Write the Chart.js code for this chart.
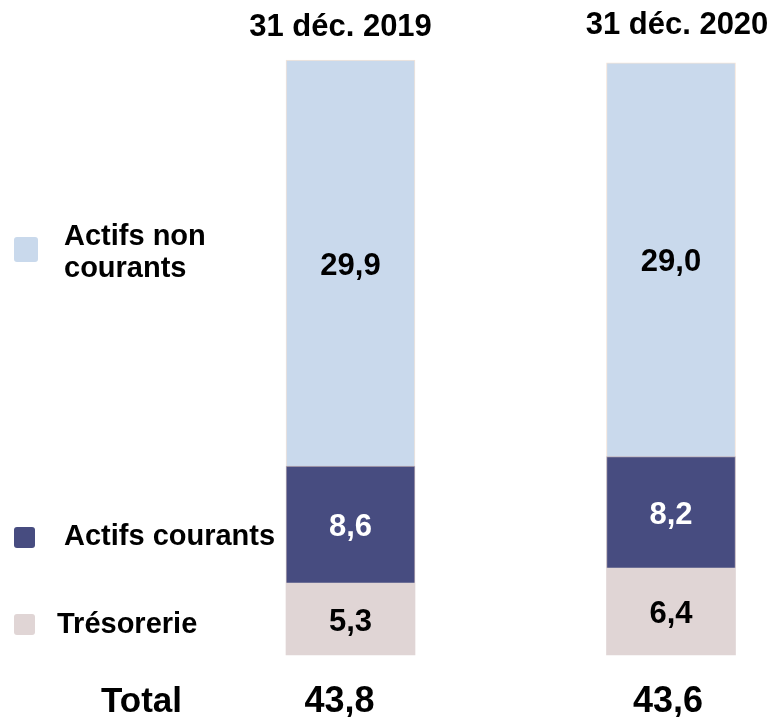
<!DOCTYPE html>
<html>
<head>
<meta charset="utf-8">
<script src="https://cdn.jsdelivr.net/npm/chart.js@4"></script>
<style>
html,body{margin:0;padding:0;background:#fff;}
#wrap{position:relative;width:777px;height:717px;}
</style>
</head>
<body>
<div id="wrap"><canvas id="c"></canvas></div>
<script>
const categories = ['31 déc. 2019', '31 déc. 2020'];
const seriesNames = ['Trésorerie', 'Actifs courants', 'Actifs non\ncourants'];
const tresorerie = [5.3, 6.4];
const actifsCourants = [8.6, 8.2];
const actifsNonCourants = [29.9, 29.0];
const totalLabel = 'Total';

const COLORS = ['#E0D5D5', '#474C80', '#C9D9EC'];
const BORDERS = ['#E0D5D5', '#B9ABB3', '#F3E4D8'];
const LABEL_COLORS = ['#000000', '#FFFFFF', '#000000'];
const FONT = '"Liberation Sans", Arial, sans-serif';

const fmt = v => v.toFixed(1).replace('.', ',');

const overlay = {
  id: 'overlay',
  afterDatasetsDraw(chart) {
    const ctx = chart.ctx;
    const xs = chart.scales.x;
    ctx.save();
    // value labels
    chart.data.datasets.forEach((ds, di) => {
      const meta = chart.getDatasetMeta(di);
      meta.data.forEach((el, i) => {
        const cy = (el.y + el.base) / 2;
        ctx.font = 'bold 31px ' + FONT;
        ctx.fillStyle = LABEL_COLORS[di];
        ctx.textAlign = 'center';
        ctx.textBaseline = 'middle';
        ctx.fillText(fmt(ds.data[i]), el.x, cy + 3);
      });
    });
    // headers
    const hdrOff = [-10, 6];
    const hdrBase = [36, 34];
    ctx.font = 'bold 31px ' + FONT;
    ctx.fillStyle = '#000';
    ctx.textAlign = 'center';
    ctx.textBaseline = 'alphabetic';
    categories.forEach((c, i) => {
      ctx.fillText(c, xs.getPixelForValue(i) + hdrOff[i], hdrBase[i]);
    });
    // totals
    ctx.font = 'bold 35px ' + FONT;
    ctx.textAlign = 'left';
    ctx.fillText(totalLabel, 101, 712);
    ctx.font = 'bold 36px ' + FONT;
    ctx.textAlign = 'center';
    const totOff = [-11, -3];
    categories.forEach((c, i) => {
      const t = tresorerie[i] + actifsCourants[i] + actifsNonCourants[i];
      ctx.fillText(fmt(t), xs.getPixelForValue(i) + totOff[i], 712);
    });
    // legend
    const leg = [
      {di: 2, box: [14, 237, 24, 25], lines: [[64, 245], [64, 277]]},
      {di: 1, box: [14, 527, 21, 21], lines: [[64, 545]]},
      {di: 0, box: [14, 614, 21, 21], lines: [[57, 633]]}
    ];
    leg.forEach(L => {
      const [bx, by, bw, bh] = L.box;
      ctx.fillStyle = COLORS[L.di];
      ctx.beginPath();
      if (ctx.roundRect) ctx.roundRect(bx, by, bw, bh, 3); else ctx.rect(bx, by, bw, bh);
      ctx.fill();
      ctx.fillStyle = '#000';
      ctx.font = 'bold 29px ' + FONT;
      ctx.textAlign = 'left';
      ctx.textBaseline = 'alphabetic';
      const parts = seriesNames[L.di].split('\n');
      parts.forEach((p, k) => ctx.fillText(p, L.lines[k][0], L.lines[k][1]));
    });
    ctx.restore();
  }
};

new Chart(document.getElementById('c'), {
  type: 'bar',
  data: {
    labels: categories,
    datasets: [
      {label: seriesNames[0], data: tresorerie},
      {label: seriesNames[1], data: actifsCourants},
      {label: seriesNames[2], data: actifsNonCourants}
    ].map((d, i) => Object.assign(d, {
      backgroundColor: COLORS[i],
      borderColor: BORDERS[i],
      borderWidth: i === 0 ? 0 : 1,
      barThickness: 129,
      clip: false
    }))
  },
  options: {
    responsive: true,
    maintainAspectRatio: false,
    animation: false,
    layout: {padding: {left: 350.5, right: 106, top: 60, bottom: 62}},
    plugins: {legend: {display: false}, tooltip: {enabled: false}, title: {display: false}},
    scales: {
      x: {display: false, stacked: true, offset: false},
      y: {display: false, stacked: true, min: 0, max: 43.8}
    }
  },
  plugins: [overlay]
});
</script>
</body>
</html>
